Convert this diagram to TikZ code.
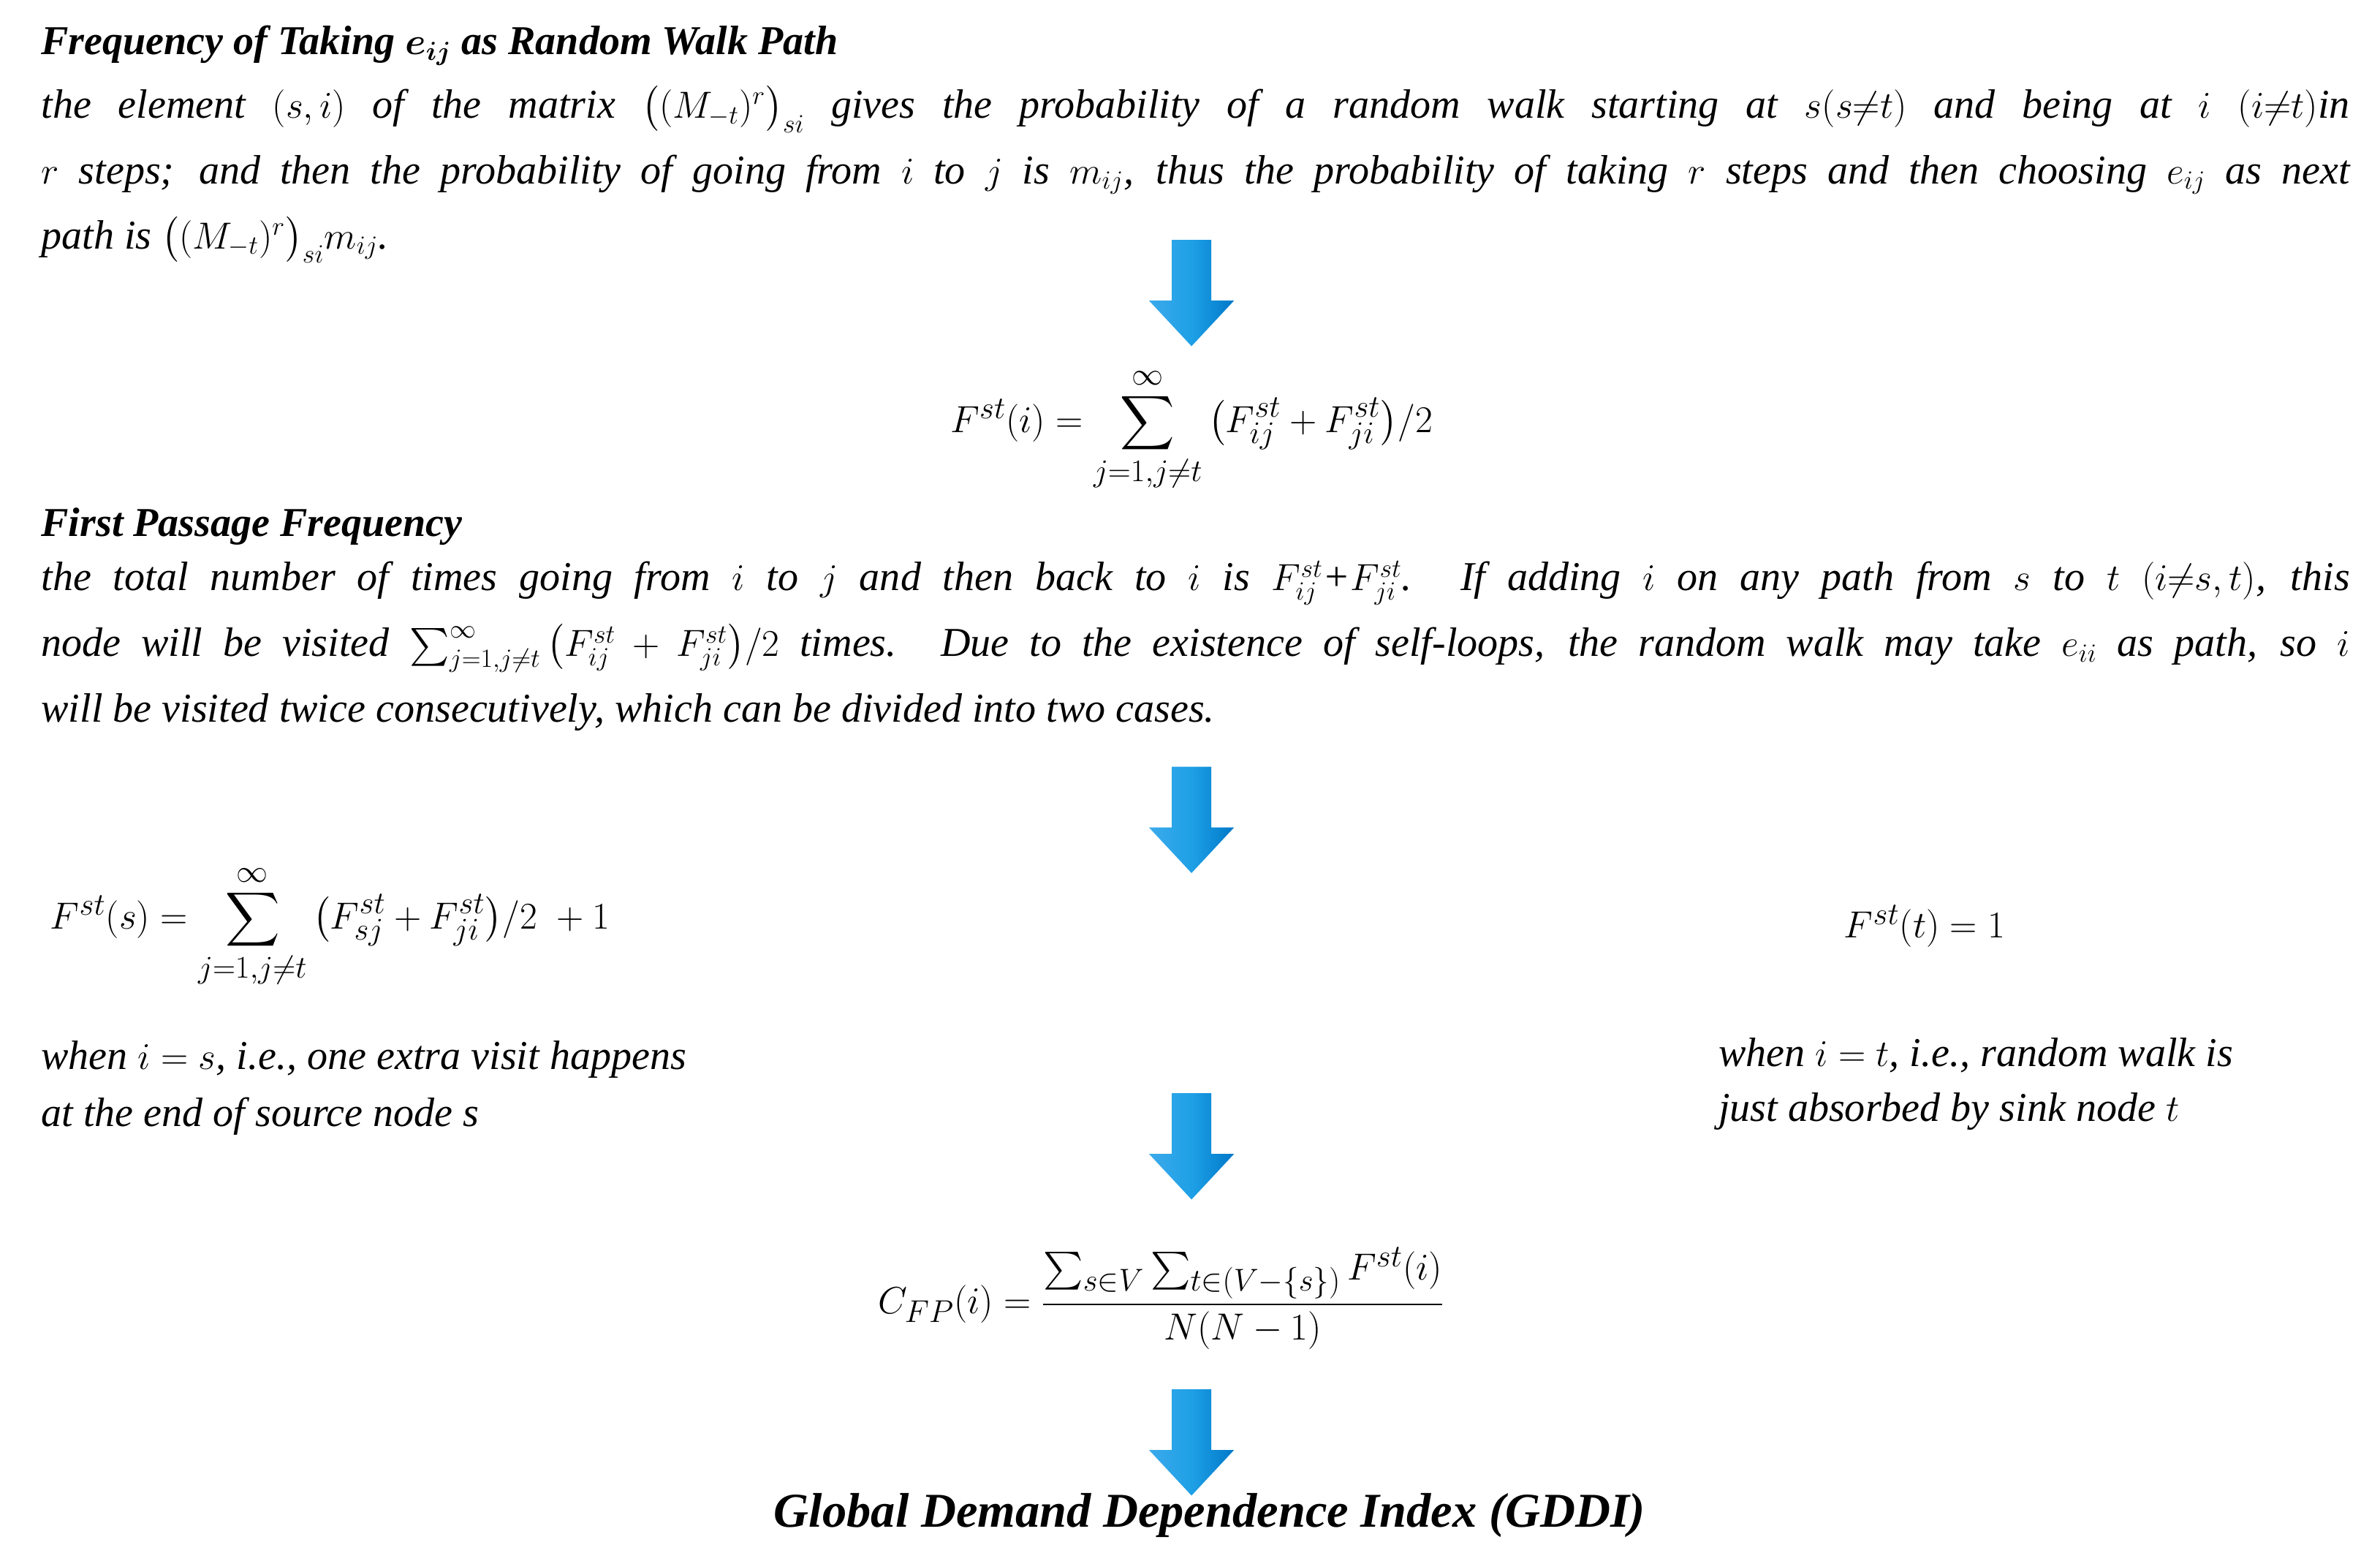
\documentclass[tikz,border=0pt]{standalone}
\usepackage{amsmath}
\usepackage{fontspec}
\setmainfont{Liberation Serif}
\begin{document}
\begin{tikzpicture}[x=1pt,y=-1pt,
  txt/.style={anchor=west,inner sep=0pt,font=\fontsize{27}{30}\selectfont\itshape},
  ttl/.style={anchor=west,inner sep=0pt,font=\fontsize{27}{30}\selectfont\bfseries\itshape},
  eq/.style={inner sep=0pt,font=\fontsize{30}{34}\selectfont},
  barrow/.style={draw=none,left color={rgb,255:red,60;green,170;blue,235},right color={rgb,255:red,0;green,120;blue,200},middle color={rgb,255:red,30;green,160;blue,230}}]
\useasboundingbox (0,0) rectangle (1568,1030);
\newcommand{\myblarrow}[3]{\path[barrow] (#1-13,#2) -- (#1+13,#2) -- (#1+13,#3-30) -- (#1+28,#3-30) -- (#1,#3) -- (#1-28,#3-30) -- (#1-13,#3-30) -- cycle;}
\node[ttl] (t1) at (27,30) {Frequency of Taking $\boldsymbol{e_{ij}}$ as Random Walk Path};
\node[txt] (l1) at (27,72) {\makebox[1521pt][s]{the element $(s,i)$ of the matrix $\big((M_{-t})^r\big)_{si}$ gives the probability of a random walk starting at $s(s{\neq}t)$ and being at $i$ $(i{\neq}t)$in}};
\node[txt] (l2) at (27,115) {\makebox[1521pt][s]{$r$ steps; and then the probability of going from $i$ to $j$ is $m_{ij}$, thus the probability of taking $r$ steps and then choosing $e_{ij}$ as next}};
\node[txt] (l3) at (27,158) {path is $\big((M_{-t})^r\big)_{si}m_{ij}$.};
\myblarrow{785}{158}{228}
\node[eq] (f1) at (785,283) {$F^{st}(i) = \displaystyle\sum_{j=1,j\neq t}^{\infty}\big(F_{ij}^{st}+F_{ji}^{st}\big)/2$};
\node[ttl] (t2) at (27,347) {First Passage Frequency};
\node[txt] (m1) at (27,384) {\makebox[1521pt][s]{the total number of times going from $i$ to $j$ and then back to $i$ is $F_{ij}^{st}$+$F_{ji}^{st}$. If adding $i$ on any path from $s$ to $t$ $(i{\neq}s,t)$, this}};
\node[txt] (m2) at (27,427) {\makebox[1521pt][s]{node will be visited $\sum_{j=1,j\neq t}^{\infty}\big(F_{ij}^{st}+F_{ji}^{st}\big)/2$ times. Due to the existence of self-loops, the random walk may take $e_{ii}$ as path, so $i$}};
\node[txt] (m3) at (27,469) {will be visited twice consecutively, which can be divided into two cases.};
\myblarrow{785}{505}{575}
\node[eq,anchor=west] (fs) at (33,610) {$F^{st}(s) = \displaystyle\sum_{j=1,j\neq t}^{\infty}\big(F_{sj}^{st}+F_{ji}^{st}\big)/2\ +1$};
\node[eq] (ft) at (1268,610) {$F^{st}(t) = 1$};
\node[txt] (s1) at (27,698) {when $i=s$, i.e., one extra visit happens};
\node[txt] (s2) at (27,735) {at the end of source node s};
\node[txt] (r1) at (1132,695) {when $i=t$, i.e., random walk is};
\node[txt] (r2) at (1132,732) {just absorbed by sink node $t$};
\myblarrow{785}{720}{790}
\node[eq] (cf) at (765,855) {$C_{FP}(i) = \dfrac{\sum_{s\in V}\sum_{t\in(V-\{s\})}F^{st}(i)}{N(N-1)}$};
\myblarrow{785}{915}{985}
\node[inner sep=0pt,font=\fontsize{32}{36}\selectfont\bfseries\itshape] (g) at (797,998) {Global Demand Dependence Index (GDDI)};
\end{tikzpicture}
\end{document}
